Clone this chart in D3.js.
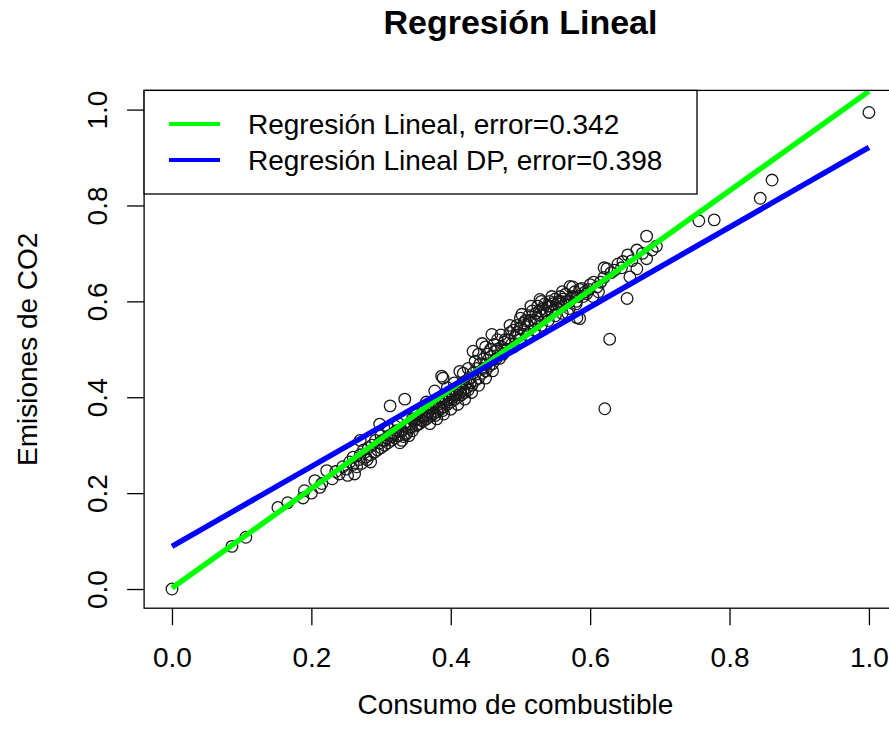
<!DOCTYPE html>
<html><head><meta charset="utf-8">
<script src="https://cdn.jsdelivr.net/npm/d3@7"></script>
<style>body{margin:0;background:#fff}svg{display:block}text{font-family:"Liberation Sans",Arial,sans-serif;fill:#000}</style>
</head><body><div id="chart"></div>
<script>
const title = "Regresión Lineal";
const xLabel = "Consumo de combustible";
const yLabel = "Emisiones de CO2";
const xTicks = [0, 0.2, 0.4, 0.6, 0.8, 1.0];
const yTicks = [0, 0.2, 0.4, 0.6, 0.8, 1.0];
const seriesNames = ["Regresión Lineal, error=0.342", "Regresión Lineal DP, error=0.398"];
const seriesColors = ["#00ff00", "#0000ff"];
const lineX = [0, 1];
const greenY = [0.002, 1.038];
const blueY = [0.089, 0.921];
const pointsX = [
0,0.086,0.106,0.152,0.166,0.19,0.188,0.205,0.212,0.2,0.215,0.222,0.23,0.235,
0.24,0.245,0.25,0.252,0.255,0.26,0.26,0.265,0.268,0.27,0.272,0.275,0.278,0.28,0.282,0.285,0.287,0.29,0.292,0.295,0.298,0.3,0.298,0.27,0.262,0.285,0.3,
0.302,0.305,0.308,0.31,0.312,0.315,0.318,0.32,0.322,0.325,0.327,0.33,0.332,0.335,0.337,0.34,0.342,0.345,0.347,0.35,0.352,0.355,0.357,0.36,0.31,0.32,0.33,0.34,0.35,0.36,0.313,0.334,0.325,0.345,
0.362,0.365,0.368,0.37,0.372,0.375,0.377,0.38,0.382,0.385,0.387,0.39,0.392,0.395,0.397,0.4,0.402,0.405,0.407,0.41,0.412,0.415,0.417,0.42,0.377,0.387,0.418,0.42,0.37,0.38,0.39,0.4,0.395,0.405,0.41,0.365,0.389,0.413,
0.422,0.425,0.427,0.43,0.432,0.432,0.435,0.437,0.44,0.442,0.445,0.445,0.447,0.45,0.452,0.455,0.457,0.459,0.46,0.462,0.465,0.467,0.47,0.472,0.475,0.477,0.48,0.43,0.44,0.45,0.46,0.44,0.45,0.425,0.435,
0.482,0.485,0.487,0.49,0.492,0.495,0.497,0.5,0.502,0.505,0.507,0.51,0.512,0.515,0.517,0.52,0.522,0.525,0.528,0.53,0.532,0.535,0.537,0.54,0.542,0.545,0.547,0.55,0.552,0.555,0.557,0.56,0.562,0.565,0.568,0.57,0.571,0.575,0.578,0.58,0.581,0.585,0.585,0.588,0.59,0.595,0.598,0.6,0.604,0.49,0.5,0.51,0.52,0.53,0.54,0.55,0.56,0.57,0.58,0.485,0.5,0.515,0.53,0.545,0.56,0.575,
0.61,0.615,0.62,0.624,0.62,0.63,0.635,0.64,0.645,0.647,0.654,0.657,0.653,0.66,0.667,0.667,0.675,0.681,0.681,0.689,0.695,0.628,0.621,0.612,0.605,
0.756,0.778,0.844,0.861,1.0,
0.335,0.343,0.352,0.358,0.366,0.373,0.378,0.383,0.388,0.393,0.398,0.403,0.408,0.414,0.418,0.423,0.428,0.316,0.328,0.306,
0.495,0.505,0.513,0.523,0.527,0.535,0.543,0.553,0.558,0.566,0.573,0.583,0.593,0.467,0.473,0.478,0.458,0.463,0.452,0.447];
const pointsY = [
0,0.089,0.108,0.17,0.18,0.205,0.19,0.226,0.212,0.2,0.22,0.247,0.23,0.245,
0.24,0.255,0.25,0.237,0.265,0.26,0.275,0.255,0.27,0.28,0.262,0.29,0.275,0.27,0.295,0.28,0.3,0.285,0.31,0.29,0.305,0.295,0.344,0.31,0.24,0.265,0.32,
0.31,0.3,0.315,0.305,0.32,0.31,0.325,0.315,0.33,0.32,0.305,0.33,0.318,0.34,0.325,0.335,0.345,0.33,0.35,0.34,0.355,0.345,0.36,0.35,0.335,0.34,0.31,0.32,0.365,0.37,0.382,0.396,0.345,0.355,
0.36,0.355,0.37,0.36,0.38,0.365,0.385,0.37,0.39,0.375,0.395,0.38,0.4,0.385,0.405,0.39,0.41,0.395,0.415,0.4,0.42,0.405,0.43,0.41,0.413,0.444,0.45,0.396,0.345,0.355,0.365,0.375,0.42,0.43,0.385,0.39,0.44,0.454,
0.43,0.415,0.44,0.425,0.45,0.496,0.435,0.46,0.44,0.47,0.45,0.512,0.48,0.455,0.49,0.465,0.5,0.531,0.47,0.51,0.48,0.52,0.481,0.53,0.49,0.515,0.5,0.41,0.425,0.44,0.455,0.49,0.505,0.46,0.475,
0.52,0.535,0.51,0.54,0.525,0.55,0.53,0.545,0.573,0.54,0.56,0.55,0.57,0.555,0.58,0.56,0.575,0.59,0.604,0.57,0.585,0.595,0.575,0.59,0.6,0.58,0.595,0.605,0.585,0.6,0.61,0.59,0.605,0.615,0.575,0.6,0.631,0.61,0.62,0.6,0.566,0.564,0.625,0.627,0.61,0.616,0.625,0.635,0.61,0.505,0.52,0.53,0.54,0.55,0.56,0.57,0.575,0.585,0.595,0.55,0.565,0.59,0.6,0.61,0.62,0.63,
0.63,0.64,0.65,0.668,0.67,0.66,0.665,0.678,0.67,0.683,0.697,0.651,0.606,0.685,0.707,0.668,0.7,0.689,0.736,0.707,0.715,0.521,0.376,0.62,0.64,
0.768,0.77,0.815,0.853,0.994,
0.322,0.338,0.343,0.352,0.362,0.368,0.362,0.378,0.372,0.39,0.395,0.4,0.405,0.41,0.415,0.42,0.43,0.318,0.328,0.31,
0.535,0.555,0.56,0.565,0.58,0.58,0.59,0.595,0.6,0.6,0.605,0.61,0.62,0.5,0.505,0.52,0.485,0.495,0.47,0.46];

const W = 889, H = 747;
const svg = d3.select("#chart").append("svg").attr("width", W).attr("height", H);
const x = d3.scaleLinear().domain([-0.04, 1.04]).range([144.1, 896.8]);
const y = d3.scaleLinear().domain([-0.04, 1.04]).range([608.2, 90.4]);
const x0 = x.range()[0], x1 = x.range()[1], y0 = y.range()[0], y1 = y.range()[1];

svg.append("defs").append("clipPath").attr("id", "clip")
  .append("rect").attr("x", x0).attr("y", y1).attr("width", x1 - x0).attr("height", y0 - y1);

// Title
svg.append("text").attr("x", (x0 + x1) / 2).attr("y", 34).attr("text-anchor", "middle")
  .style("font-weight", "bold").style("font-size", "34px").text(title);

// Axes
const xAxis = d3.axisBottom(x).tickValues(xTicks).tickFormat(d3.format(".1f")).tickSize(17).tickPadding(22);
const gx = svg.append("g").attr("transform", `translate(0,${y0})`).call(xAxis);
gx.select(".domain").remove();
gx.selectAll(".tick line").attr("stroke", "#000").attr("stroke-width", 1.3);
gx.selectAll(".tick text").style("font-size", "28px").attr("fill", "#000");

const yAxis = d3.axisLeft(y).tickValues(yTicks).tickFormat(d3.format(".1f")).tickSize(17);
const gy = svg.append("g").attr("transform", `translate(${x0},0)`).call(yAxis);
gy.select(".domain").remove();
gy.selectAll(".tick line").attr("stroke", "#000").attr("stroke-width", 1.3);
gy.selectAll(".tick text").style("font-size", "28px").attr("fill", "#000")
  .attr("x", null).attr("dy", null).attr("text-anchor", "middle")
  .attr("transform", "translate(-37,0) rotate(-90)");

// axis labels
svg.append("text").attr("x", (x0 + x1) / 2 - 5).attr("y", 714).attr("text-anchor", "middle")
  .style("font-size", "28px").text(xLabel);
svg.append("text").attr("transform", `translate(37,${(y0 + y1) / 2}) rotate(-90)`).attr("text-anchor", "middle")
  .style("font-size", "28px").text(yLabel);

const plot = svg.append("g").attr("clip-path", "url(#clip)");
// points
plot.selectAll("circle.pt").data(pointsX.map((d, i) => [d, pointsY[i]])).join("circle")
  .attr("class", "pt").attr("cx", d => x(d[0])).attr("cy", d => y(d[1])).attr("r", 5.8)
  .attr("fill", "none").attr("stroke", "#1a1a1a").attr("stroke-width", 1.3);

// regression lines
const line = d3.line().x(d => x(d[0])).y(d => y(d[1]));
[greenY, blueY].forEach((ys, k) => {
  plot.append("path").datum(lineX.map((v, i) => [v, ys[i]])).attr("d", line)
    .attr("fill", "none").attr("stroke", seriesColors[k]).attr("stroke-width", 5.5);
});

// box
svg.append("rect").attr("x", x0).attr("y", y1).attr("width", x1 - x0).attr("height", y0 - y1)
  .attr("fill", "none").attr("stroke", "#000").attr("stroke-width", 1.3);

// legend
const lg = svg.append("g");
lg.append("rect").attr("x", x0).attr("y", y1).attr("width", 697 - x0).attr("height", 194 - y1)
  .attr("fill", "#fff").attr("stroke", "#000").attr("stroke-width", 1.3);
seriesNames.forEach((name, i) => {
  const cy = 124 + i * 36;
  lg.append("line").attr("x1", 169).attr("x2", 220).attr("y1", cy).attr("y2", cy)
    .attr("stroke", seriesColors[i]).attr("stroke-width", 4);
  lg.append("text").attr("x", 248).attr("y", cy + 10).style("font-size", "28px").text(name);
});
</script></body></html>
